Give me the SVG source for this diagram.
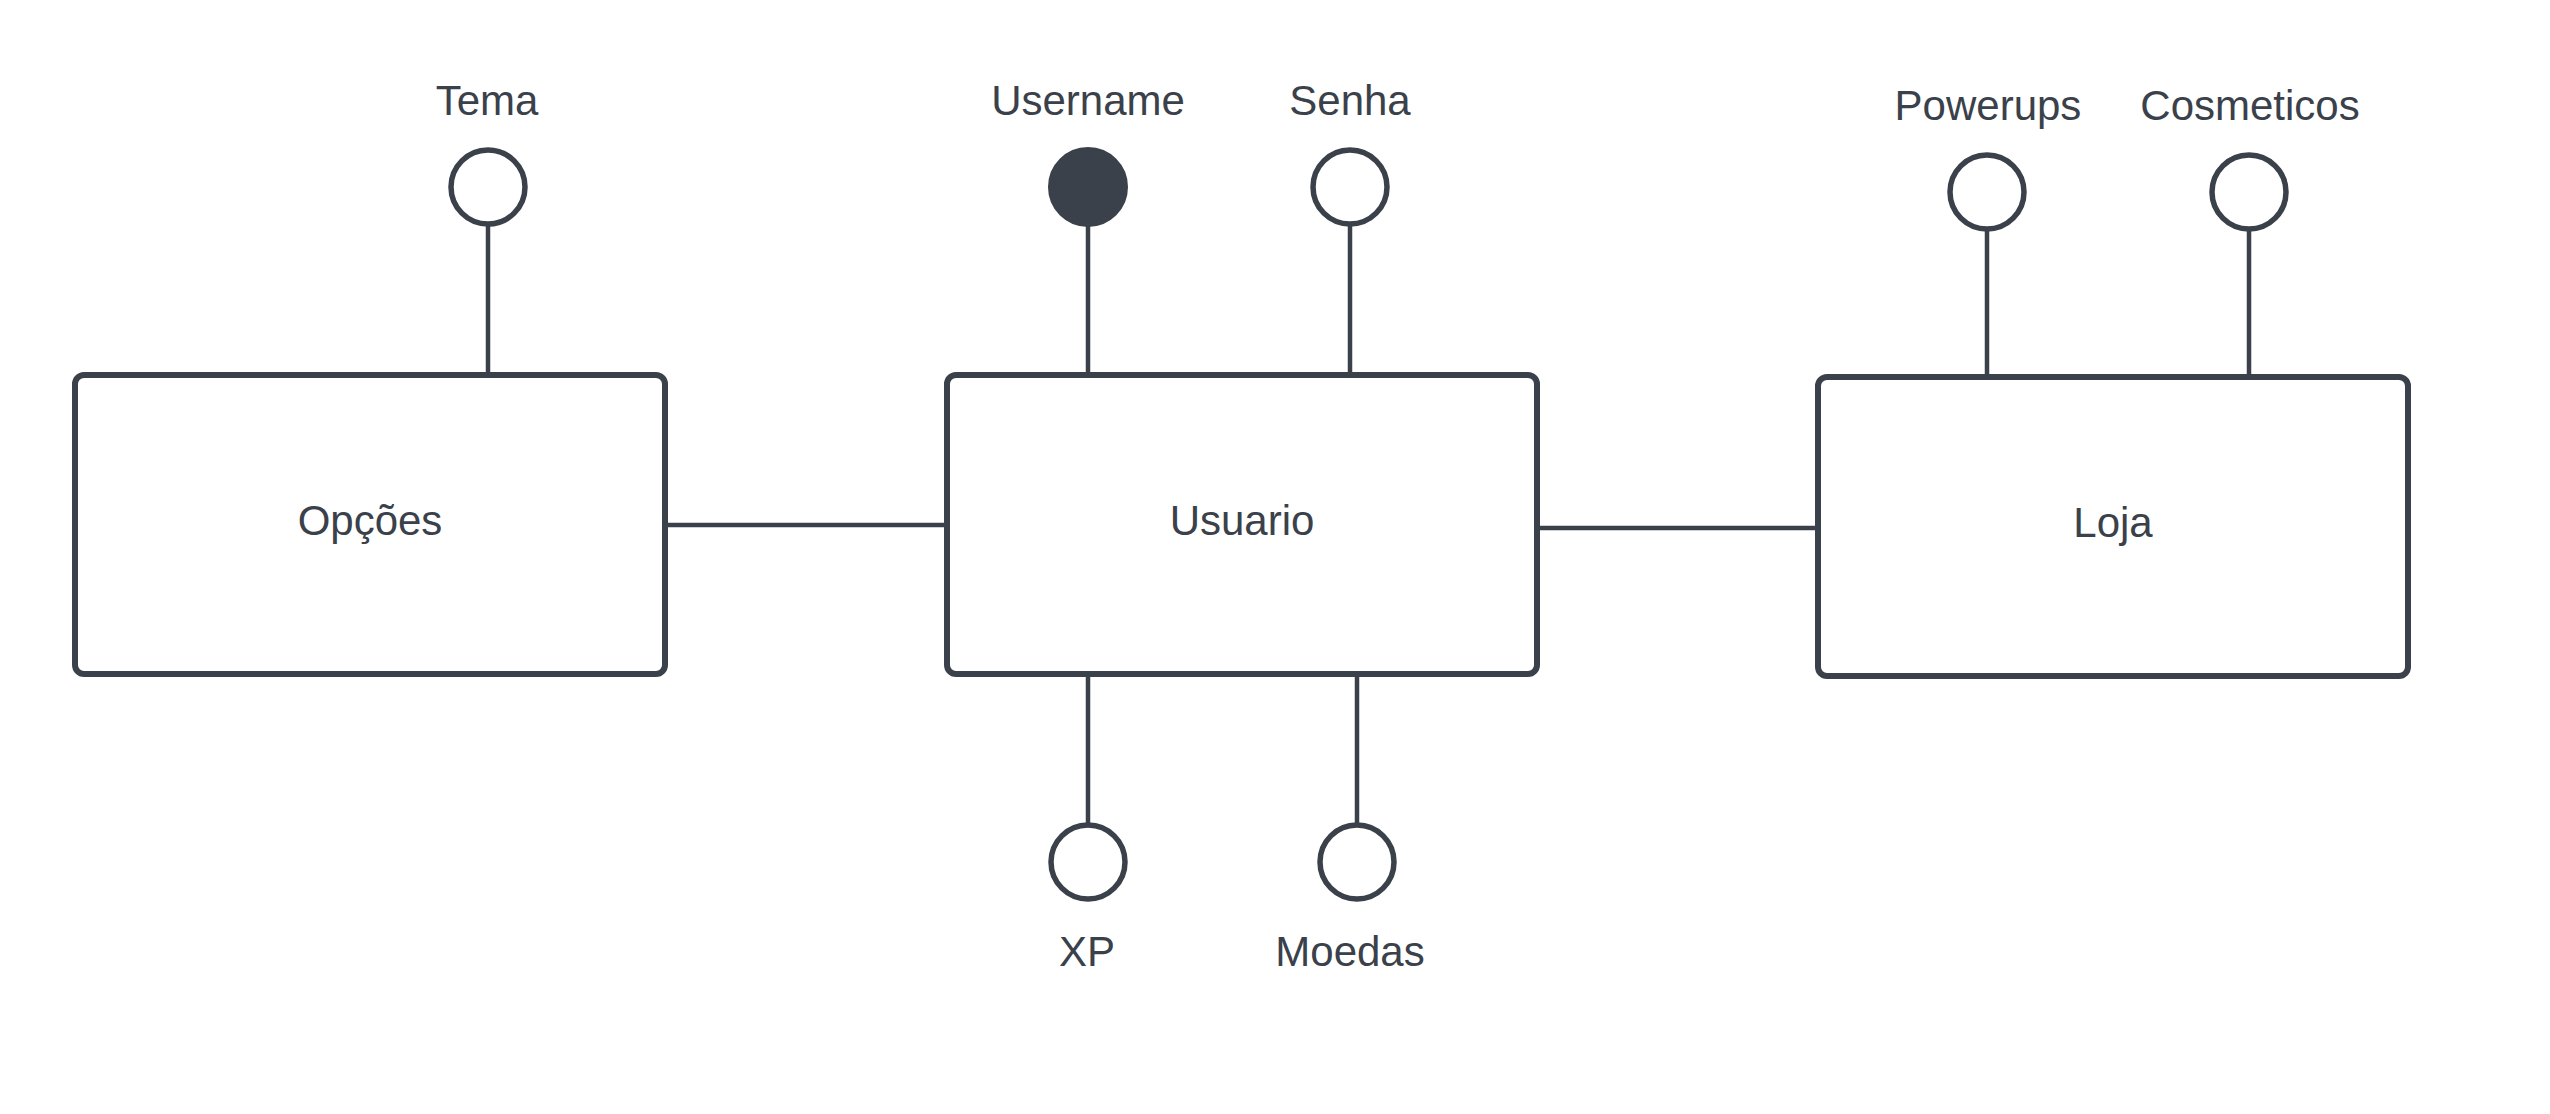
<svg xmlns="http://www.w3.org/2000/svg" width="2550" height="1114" viewBox="0 0 2550 1114">
<style>
.box{fill:#ffffff;stroke:#3a414a;stroke-width:6}
.attr{fill:#ffffff;stroke:#3a414a;stroke-width:5.5}
.key{fill:#3a414a;stroke:#3a414a;stroke-width:5}
.conn{fill:none;stroke:#3a414a;stroke-width:4.5}
text{font-family:"Liberation Sans",Arial,sans-serif;font-size:42px;fill:#3a414a;text-anchor:middle}
</style>
<rect width="2550" height="1114" fill="#ffffff"/>
<g id="connectors">
<line class="conn" x1="488" y1="224" x2="488" y2="375"/>
<line class="conn" x1="1088" y1="224" x2="1088" y2="375"/>
<line class="conn" x1="1350" y1="224" x2="1350" y2="375"/>
<line class="conn" x1="1987" y1="229" x2="1987" y2="377"/>
<line class="conn" x1="2249" y1="229" x2="2249" y2="377"/>
<line class="conn" x1="1088" y1="675" x2="1088" y2="825"/>
<line class="conn" x1="1357" y1="675" x2="1357" y2="825"/>
<line class="conn" x1="665" y1="525" x2="947" y2="525"/>
<line class="conn" x1="1537" y1="528" x2="1818" y2="528"/>
</g>
<g id="opcoes">
<rect class="box" x="75" y="375" width="590" height="299" rx="9"/>
<text x="370" y="535">Opções</text>
</g>
<g id="usuario">
<rect class="box" x="947" y="375" width="590" height="299" rx="9"/>
<text x="1242" y="535">Usuario</text>
</g>
<g id="loja">
<rect class="box" x="1818" y="377" width="590" height="299" rx="9"/>
<text x="2113" y="537">Loja</text>
</g>
<g id="tema">
<circle class="attr" cx="488" cy="187" r="37"/>
<text x="487" y="115">Tema</text>
</g>
<g id="username">
<circle class="key" cx="1088" cy="187" r="37.5"/>
<text x="1088" y="115">Username</text>
</g>
<g id="senha">
<circle class="attr" cx="1350" cy="187" r="37"/>
<text x="1350" y="115">Senha</text>
</g>
<g id="powerups">
<circle class="attr" cx="1987" cy="192" r="37"/>
<text x="1988" y="120">Powerups</text>
</g>
<g id="cosmeticos">
<circle class="attr" cx="2249" cy="192" r="37"/>
<text x="2250" y="120">Cosmeticos</text>
</g>
<g id="xp">
<circle class="attr" cx="1088" cy="862" r="37"/>
<text x="1087" y="966">XP</text>
</g>
<g id="moedas">
<circle class="attr" cx="1357" cy="862" r="37"/>
<text x="1350" y="966">Moedas</text>
</g>
</svg>
